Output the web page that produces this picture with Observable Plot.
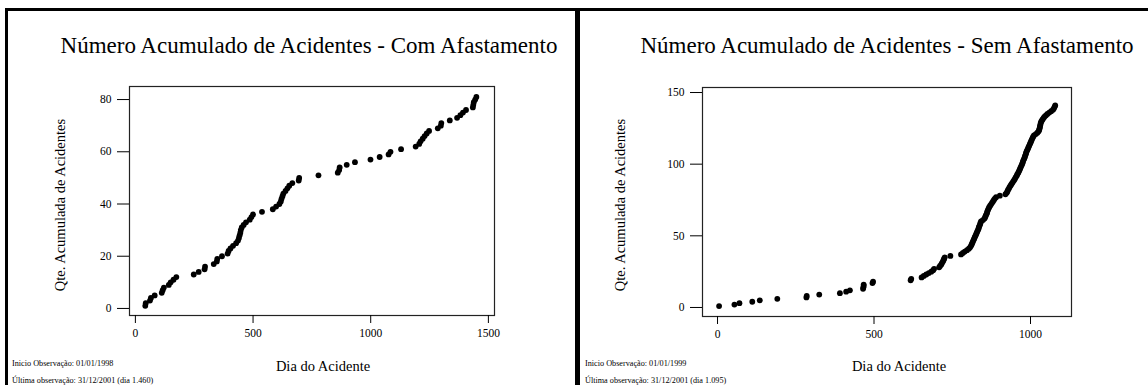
<!DOCTYPE html>
<html>
<head>
<meta charset="utf-8">
<script src="https://cdn.jsdelivr.net/npm/d3@7"></script>
<script src="https://cdn.jsdelivr.net/npm/@observablehq/plot@0.6"></script>
<style>
  html, body { margin: 0; padding: 0; background: #fff; }
  #root { position: relative; width: 1148px; height: 385px; overflow: hidden; background: #fff;
          font-family: "Liberation Serif", "Times New Roman", serif; color: #000; }
  .abs { position: absolute; white-space: nowrap; line-height: 1; }
  .plot { position: absolute; top: 0; }
</style>
</head>
<body>
<div id="root"></div>
<script>
// ---------- Data ----------
const titles = ["Número Acumulado de Acidentes - Com Afastamento", "Número Acumulado de Acidentes - Sem Afastamento"];
const yLabel = "Qte. Acumulada de Acidentes";
const xLabel = "Dia do Acidente";
const notesCom = ["Inicio Observação: 01/01/1998", "Última observação: 31/12/2001 (dia 1.460)"];
const notesSem = ["Inicio Observação: 01/01/1999", "Última observação: 31/12/2001 (dia 1.095)"];

const xTicksCom = [0, 500, 1000, 1500];
const yTicksCom = [0, 20, 40, 60, 80];
const xTicksSem = [0, 500, 1000];
const yTicksSem = [0, 50, 100, 150];

// Com Afastamento: day of accident and cumulative count
const diaCom = [42, 44, 62, 66, 82, 112, 116, 121, 142, 150, 162, 174, 248, 269, 294, 296, 333, 346, 348, 368,
  392, 396, 404, 415, 428, 436, 440, 443, 446, 448, 452, 460, 470, 486, 493, 500, 538, 584, 598, 612,
  618, 621, 625, 629, 638, 646, 654, 667, 694, 696, 778, 860, 866, 868, 898, 933, 999, 1038, 1076, 1084,
  1129, 1191, 1206, 1212, 1221, 1229, 1238, 1248, 1285, 1298, 1300, 1336, 1367, 1381, 1392, 1405, 1434, 1436, 1438, 1444,
  1449];
const qtdCom = [1, 2, 3, 4, 5, 6, 7, 8, 9, 10, 11, 12, 13, 14, 15, 16, 17, 18, 19, 20,
  21, 22, 23, 24, 25, 26, 27, 28, 29, 30, 31, 32, 33, 34, 35, 36, 37, 38, 39, 40,
  41, 42, 43, 44, 45, 46, 47, 48, 49, 50, 51, 52, 53, 54, 55, 56, 57, 58, 59, 60,
  61, 62, 63, 64, 65, 66, 67, 68, 69, 70, 71, 72, 73, 74, 75, 76, 77, 78, 79, 80,
  81];

// Sem Afastamento
const diaSem = [5, 54, 70, 111, 135, 191, 284, 285, 325, 391, 411, 423, 465, 466, 467, 467, 495, 497, 617, 619,
  652, 659, 667, 675, 683, 689, 692, 708, 711, 715, 717, 720, 722, 724, 726, 744, 778, 784, 790, 797,
  803, 807, 810, 812, 814, 816, 818, 820, 822, 824, 826, 828, 830, 832, 834, 835, 837, 839, 840, 842,
  848, 853, 855, 857, 859, 861, 862, 864, 866, 868, 871, 874, 877, 880, 883, 886, 890, 902, 920, 924,
  926, 928, 931, 933, 936, 939, 942, 945, 948, 951, 953, 956, 958, 961, 963, 965, 967, 969, 971, 973,
  975, 976, 978, 980, 982, 983, 985, 986, 988, 990, 992, 994, 996, 998, 1000, 1002, 1004, 1006, 1008, 1011,
  1017, 1022, 1026, 1028, 1029, 1030, 1031, 1032, 1033, 1035, 1038, 1041, 1044, 1049, 1054, 1060, 1066, 1072, 1075, 1077,
  1079];
const qtdSem = [1, 2, 3, 4, 5, 6, 7, 8, 9, 10, 11, 12, 13, 14, 15, 16, 17, 18, 19, 20,
  21, 22, 23, 24, 25, 26, 27, 28, 29, 30, 31, 32, 33, 34, 35, 36, 37, 38, 39, 40,
  41, 42, 43, 44, 45, 46, 47, 48, 49, 50, 51, 52, 53, 54, 55, 56, 57, 58, 59, 60,
  61, 62, 63, 64, 65, 66, 67, 68, 69, 70, 71, 72, 73, 74, 75, 76, 77, 78, 79, 80,
  81, 82, 83, 84, 85, 86, 87, 88, 89, 90, 91, 92, 93, 94, 95, 96, 97, 98, 99, 100,
  101, 102, 103, 104, 105, 106, 107, 108, 109, 110, 111, 112, 113, 114, 115, 116, 117, 118, 119, 120,
  121, 122, 123, 124, 125, 126, 127, 128, 129, 130, 131, 132, 133, 134, 135, 136, 137, 138, 139, 140,
  141];

// ---------- Build ----------
const root = document.getElementById("root");

function addText(txt, opts) {
  const d = document.createElement("div");
  d.className = "abs";
  d.textContent = txt;
  d.style.fontSize = opts.fs + "px";
  d.style.top = (opts.baseline - 0.8375 * opts.fs) + "px";
  if (opts.center != null) {
    d.style.left = opts.center + "px";
    d.style.transform = "translateX(-50%)";
  } else {
    d.style.left = opts.left + "px";
  }
  root.appendChild(d);
}
function addVText(txt, cx, cy, fs) {
  const d = document.createElement("div");
  d.className = "abs";
  d.textContent = txt;
  d.style.fontSize = fs + "px";
  d.style.left = cx + "px";
  d.style.top = cy + "px";
  d.style.transform = "translate(-50%, -50%) rotate(-90deg)";
  root.appendChild(d);
}

function makePanel(cfg) {
  const data = cfg.dia.map((d, i) => ({dia: d, qtd: cfg.qtd[i]}));
  const chart = Plot.plot({
    width: cfg.width,
    height: 385,
    marginLeft: cfg.ml,
    marginRight: cfg.mr,
    marginTop: cfg.mt,
    marginBottom: cfg.mb,
    style: {fontFamily: "'Liberation Serif', 'Times New Roman', serif", fontSize: "11px", background: "transparent", color: "#000"},
    x: {domain: cfg.xDomain},
    y: {domain: cfg.yDomain},
    marks: [
      Plot.frame({stroke: "#222", strokeWidth: 1.2}),
      Plot.axisX({ticks: cfg.xTicks, tickFormat: d => String(d), tickSize: 8, tickPadding: 5, label: null, fontSize: 11.5}),
      Plot.axisY({ticks: cfg.yTicks, tickFormat: d => String(d), tickSize: 12, tickPadding: 6, label: null, fontSize: 11.5}),
      Plot.dot(data, {x: "dia", y: "qtd", r: 2.9, fill: "#000", stroke: "none"})
    ]
  });
  chart.classList.add("plot");
  chart.style.position = "absolute";
  chart.style.left = cfg.left + "px";
  chart.style.top = "0px";
  root.appendChild(chart);
}

makePanel({dia: diaCom, qtd: qtdCom, left: 0, width: 575, ml: 129, mr: 81, mt: 86, mb: 70,
  xDomain: [-25, 1526], yDomain: [-2.7, 85], xTicks: xTicksCom, yTicks: yTicksCom});
makePanel({dia: diaSem, qtd: qtdSem, left: 575, width: 573, ml: 127, mr: 77, mt: 87, mb: 69,
  xDomain: [-48, 1131], yDomain: [-6.3, 153.5], xTicks: xTicksSem, yTicks: yTicksSem});

// Panel borders
function addBox(style) {
  const d = document.createElement("div");
  d.style.position = "absolute";
  Object.assign(d.style, style);
  root.appendChild(d);
}
addBox({left: "5px", top: "8px", width: "1143px", height: "3px", background: "#000"});
addBox({left: "5px", top: "8px", width: "2.5px", height: "377px", background: "#000"});
addBox({left: "575px", top: "8px", width: "5px", height: "377px", background: "#000"});

// Texts
addText(titles[0], {fs: 23, baseline: 53, center: 309});
addText(titles[1], {fs: 23, baseline: 53, center: 887});
addText(xLabel, {fs: 14.5, baseline: 371, center: 323});
addText(xLabel, {fs: 14.5, baseline: 371, center: 899});
addVText(yLabel, 60, 205, 14.5);
addVText(yLabel, 620, 205, 14.5);
addText(notesCom[0], {fs: 8.2, baseline: 367, left: 12});
addText(notesCom[1], {fs: 8.2, baseline: 384, left: 12});
addText(notesSem[0], {fs: 8.2, baseline: 367, left: 585});
addText(notesSem[1], {fs: 8.2, baseline: 384, left: 585});
</script>
</body>
</html>
